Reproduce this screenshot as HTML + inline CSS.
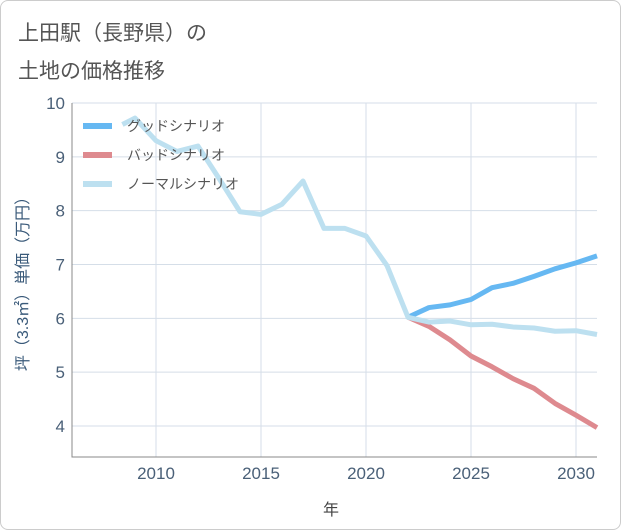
<!DOCTYPE html>
<html><head><meta charset="utf-8"><style>
body{margin:0;background:#fff}
.wrap{width:619px;height:528px;border:1px solid #ccc;border-radius:8px;position:relative;overflow:hidden;font-family:"Liberation Sans","Noto Sans CJK JP",sans-serif}
</style></head><body>
<div class="wrap">
<svg width="621" height="530" style="position:absolute;left:-1px;top:-1px">
<text x="18" y="40" font-size="21" fill="#555" font-family="Liberation Sans,Noto Sans CJK JP,sans-serif">上田駅（長野県）の</text>
<text x="18" y="78" font-size="21" fill="#555" font-family="Liberation Sans,Noto Sans CJK JP,sans-serif">土地の価格推移</text>
<g id="grid"></g><g id="series"></g><g id="legend"></g>
<text x="331" y="515" font-size="16" fill="#444" text-anchor="middle" font-family="Liberation Sans,Noto Sans CJK JP,sans-serif">年</text>
<text transform="translate(28,280) rotate(-90)" font-size="16" fill="#3a5a7a" text-anchor="middle" font-family="Liberation Sans,Noto Sans CJK JP,sans-serif">坪（3.3㎡）単価（万円）</text>
</svg>
</div>
<script>
const xTicks=[2010,2015,2020,2025,2030];
const yTicks=[4,5,6,7,8,9,10];
const normalYears=[2008.4,2009,2010,2011,2012,2013,2014,2015,2016,2017,2018,2019,2020,2021,2022,2023,2024,2025,2026,2027,2028,2029,2030,2031];
const normalVals=[9.6,9.72,9.3,9.1,9.2,8.6,7.98,7.93,8.12,8.55,7.67,7.67,7.53,6.98,6.02,5.93,5.95,5.88,5.89,5.84,5.82,5.76,5.77,5.7];
const futureYears=[2022,2023,2024,2025,2026,2027,2028,2029,2030,2031];
const goodVals=[6.02,6.2,6.25,6.35,6.57,6.65,6.78,6.92,7.03,7.16];
const badVals=[6.02,5.85,5.6,5.3,5.1,4.88,4.7,4.42,4.2,3.97];
const NS='http://www.w3.org/2000/svg';
const L=72,R=597,T=103,B=457;
const xs=y=>L+(y-2006)*(R-L)/25;
const ys=v=>426-(v-4)*(426-T)/6;
function mk(tag,attrs,parent){const e=document.createElementNS(NS,tag);for(const k in attrs)e.setAttribute(k,attrs[k]);parent.appendChild(e);return e;}
const grid=document.getElementById('grid');
xTicks.forEach(t=>{
 const l=mk('line',{x1:xs(t),x2:xs(t),y1:T,y2:B,stroke:'#d5dee8'},grid);
 
 
 const tx=mk('text',{x:xs(t),y:479,'font-size':17,fill:'#4a6078','text-anchor':'middle'},grid);tx.textContent=t;
 
 
});
yTicks.forEach(t=>{
 const l=mk('line',{x1:L,x2:R,y1:ys(t),y2:ys(t),stroke:'#d5dee8'},grid);
 
 
 const tx=mk('text',{x:65,y:ys(t)+6,'font-size':17,fill:'#4a6078','text-anchor':'end'},grid);tx.textContent=t;
 
 
});
const ax=mk('path',{d:`M${L},${T}V${B}H${R}`,fill:'none',stroke:'#888'},grid);


const ser=document.getElementById('series');
function line(yrs,vals,color,name){
 const p=mk('polyline',{points:yrs.map((y,i)=>xs(y)+','+ys(vals[i])).join(' '),fill:'none',stroke:color,'stroke-width':5,'stroke-linejoin':'round'},ser);
 
 
}
line(futureYears,badVals,'#de8a8f','bad-scenario-line');
line(futureYears,goodVals,'#66b8f2','good-scenario-line');
line(normalYears,normalVals,'#bde0f0','normal-scenario-line');
const leg=document.getElementById('legend');
[['グッドシナリオ','#66b8f2'],['バッドシナリオ','#de8a8f'],['ノーマルシナリオ','#bde0f0']].forEach((d,i)=>{
 const y=126+i*29;
 const r=mk('rect',{x:83,y:y-3,width:29,height:6,fill:d[1]},leg);
 
 
 const t=mk('text',{x:127,y:y+5,'font-size':14,fill:'#555'},leg);t.textContent=d[0];
 
 
});
</script>
</body></html>
